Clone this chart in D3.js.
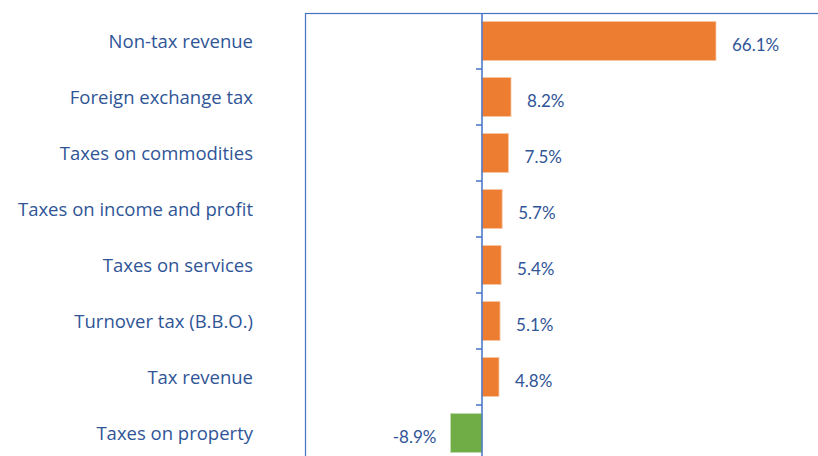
<!DOCTYPE html>
<html>
<head>
<meta charset="utf-8">
<script src="https://cdn.jsdelivr.net/npm/d3@7"></script>
<style>
  body { margin: 0; background: #fff; }
  svg { display: block; }
</style>
</head>
<body>
<div id="chart"></div>
<script>
// revenue growth by category, %
var categories = ["Non-tax revenue", "Foreign exchange tax", "Taxes on commodities",
  "Taxes on income and profit", "Taxes on services", "Turnover tax (B.B.O.)",
  "Tax revenue", "Taxes on property"]
var values = [66.1, 8.2, 7.5, 5.7, 5.4, 5.1, 4.8, -8.9]
var valueLabels = ["66.1%", "8.2%", "7.5%", "5.7%", "5.4%", "5.1%", "4.8%", "-8.9%"]

var width = 818, height = 456
var margin = {top: 13, left: 305}
var plotW = 531, plotH = 448

var textColor = "#2F5597"
var lineColor = "#4472C4"

var svg = d3.select("#chart").append("svg")
    .attr("width", width)
    .attr("height", height)

var x = d3.scaleLinear()
    .domain([-50, 100])
    .range([margin.left, margin.left + plotW])

var y = d3.scaleBand()
    .domain(categories)
    .range([margin.top, margin.top + plotH])
    .paddingInner(0.3)
    .paddingOuter(0.15)

// plot frame
svg.append("rect")
    .attr("x", margin.left + 0.5)
    .attr("y", margin.top + 0.5)
    .attr("width", plotW)
    .attr("height", plotH)
    .attr("fill", "none")
    .attr("stroke", lineColor)
    .attr("stroke-width", 1.2)

svg.append("g").selectAll("rect")
  .data(values)
  .join("rect")
    .attr("x", d => x(Math.min(0, d)))
    .attr("y", (d, i) => y(categories[i]))
    .attr("width", d => Math.abs(x(d) - x(0)))
    .attr("height", y.bandwidth())
    .attr("fill", d => d < 0 ? "#70AD47" : "#ED7D31")
    .attr("stroke", d => d < 0 ? "#C5E0B4" : "#F8CBAD")
    .attr("stroke-width", 0.8)

// category axis at zero
var step = y.step()
var boundaries = d3.range(1, categories.length).map(i => margin.top + i * step)

var axis = svg.append("g")
axis.append("line")
    .attr("x1", x(0)).attr("x2", x(0))
    .attr("y1", margin.top).attr("y2", margin.top + plotH)
    .attr("stroke", lineColor)
    .attr("stroke-width", 1.5)
axis.selectAll(".tick")
  .data(boundaries)
  .join("line")
    .attr("class", "tick")
    .attr("x1", x(0) - 6).attr("x2", x(0))
    .attr("y1", d => d).attr("y2", d => d)
    .attr("stroke", lineColor)
    .attr("stroke-width", 1.5)

// category labels
svg.append("g")
    .attr("font-family", "'Open Sans', sans-serif")
    .attr("font-size", 18.5)
    .attr("fill", textColor)
    .attr("text-anchor", "end")
  .selectAll("text")
  .data(categories)
  .join("text")
    .attr("x", 253)
    .attr("y", d => y(d) + y.bandwidth() / 2 + 1)
    .attr("dy", "0.35em")
    .text(d => d)

// value labels
svg.append("g")
    .attr("font-family", "Lato, 'Open Sans', sans-serif")
    .attr("font-size", 17)
    .attr("fill", textColor)
  .selectAll("text")
  .data(values)
  .join("text")
    .attr("x", d => d < 0 ? x(d) - 14 : x(d) + 16)
    .attr("y", (d, i) => y(categories[i]) + y.bandwidth() / 2 + 4)
    .attr("dy", "0.35em")
    .attr("text-anchor", d => d < 0 ? "end" : "start")
    .text((d, i) => valueLabels[i])
</script>
</body>
</html>
